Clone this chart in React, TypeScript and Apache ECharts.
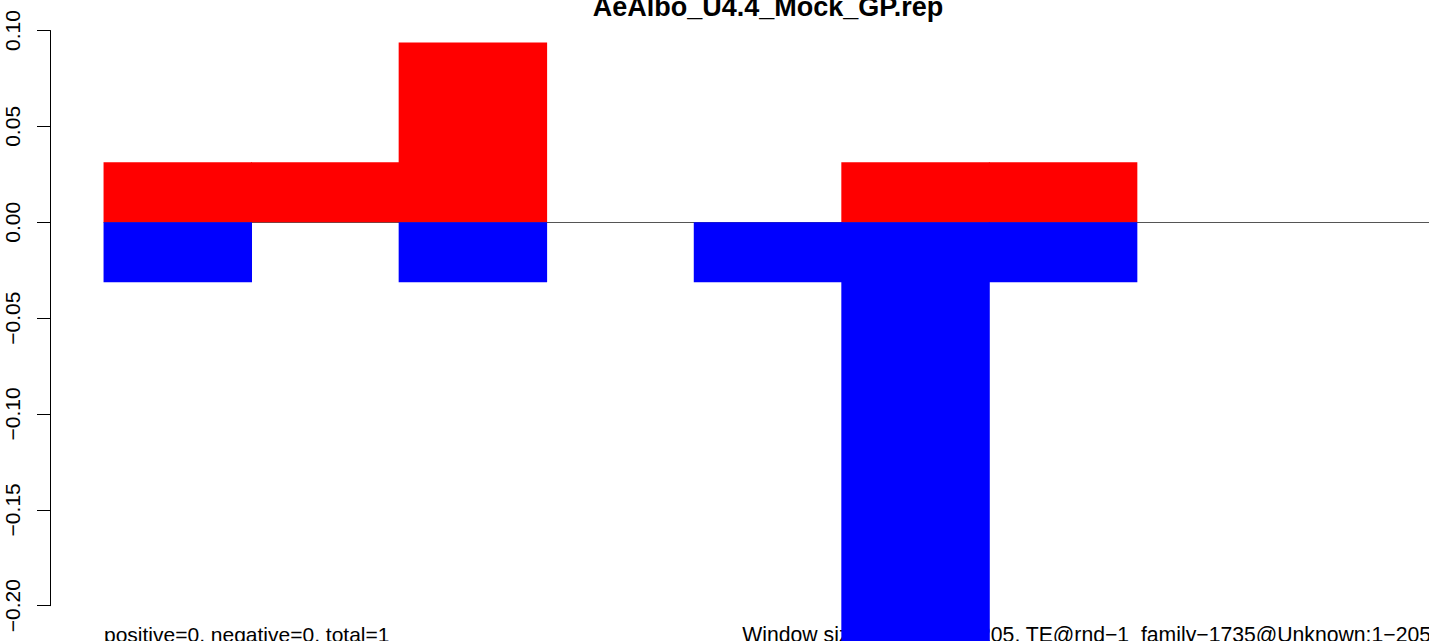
import React, { useEffect, useRef } from "react";
import * as echarts from "echarts";

const titleText = "AeAlbo_U4.4_Mock_GP.rep";
const leftNote = "positive=0, negative=0, total=1";
const rightNote = "Window size=25, length=205, TE@rnd\u22121_family\u22121735@Unknown:1\u2212205";

const windows = ["1-25", "26-50", "51-75", "76-100", "101-125", "126-150", "151-175", "176-200", "201-205"];
const positiveValues = [0.03125, 0.03125, 0.09375, 0, 0, 0.03125, 0.03125, 0, 0];
const negativeValues = [-0.03125, 0, -0.03125, 0, -0.03125, -0.21875, -0.03125, 0, 0];
const yTicks = { min: -0.2, max: 0.1, interval: 0.05 };

const FONT = "'Liberation Sans', Arial, Helvetica, sans-serif";
const CHART_W = 1440;
const GRID_W = 1328;

const hideZero = (arr: number[]) => arr.map((v) => (v === 0 ? "-" : v));

export default function App() {
  const ref = useRef<HTMLDivElement>(null);
  useEffect(() => {
    if (!ref.current) return;
    const chart = echarts.init(ref.current, null, { renderer: "svg" });
    const barW = GRID_W / windows.length + 0.9;
    chart.setOption({
      animation: false,
      backgroundColor: "#ffffff",
      grid: { left: 104, top: 30.5, width: GRID_W, height: 575.2, containLabel: false },
      xAxis: {
        type: "category",
        data: windows,
        boundaryGap: true,
        axisLine: { show: true, onZero: true, lineStyle: { color: "#555555", width: 1 } },
        axisTick: { show: false },
        axisLabel: { show: false },
        splitLine: { show: false },
      },
      yAxis: {
        type: "value",
        min: yTicks.min,
        max: yTicks.max,
        interval: yTicks.interval,
        position: "left",
        offset: 54,
        axisLine: { show: true, lineStyle: { color: "#000000", width: 1 } },
        axisTick: { show: true, length: 13, lineStyle: { color: "#000000", width: 1 } },
        axisLabel: {
          rotate: 90,
          margin: 27,
          color: "#000000",
          fontSize: 21,
          fontFamily: FONT,
          formatter: (v: number) => {
            const s = Math.abs(v).toFixed(2);
            return v < -1e-9 ? "\u2212" + s : s;
          },
        },
        splitLine: { show: false },
      },
      series: [
        {
          type: "bar",
          name: "positive",
          data: hideZero(positiveValues),
          itemStyle: { color: "#ff0000" },
          barWidth: barW,
          barGap: "-100%",
          clip: false,
          z: 2,
        },
        {
          type: "bar",
          name: "negative",
          data: hideZero(negativeValues),
          itemStyle: { color: "#0000ff" },
          barWidth: barW,
          barGap: "-100%",
          clip: false,
          z: 2,
        },
      ],
      graphic: [
        {
          type: "text",
          z: 0,
          style: {
            text: titleText,
            x: 768,
            y: 7,
            align: "center",
            verticalAlign: "middle",
            font: `bold 27px ${FONT}`,
            fill: "#000000",
          },
        },
        {
          type: "text",
          z: 0,
          style: {
            text: leftNote,
            x: 104,
            y: 634,
            align: "left",
            verticalAlign: "middle",
            font: `21px ${FONT}`,
            fill: "#000000",
          },
        },
        {
          type: "text",
          z: 0,
          style: {
            text: rightNote,
            x: 1431,
            y: 634,
            align: "right",
            verticalAlign: "middle",
            font: `21.2px ${FONT}`,
            fill: "#000000",
          },
        },
      ],
    });
    return () => chart.dispose();
  }, []);
  return (
    <div style={{ position: "absolute", left: 0, top: 0, width: 1429, height: 641, overflow: "hidden", background: "#fff" }}>
      <div ref={ref} style={{ width: CHART_W, height: 641 }} />
    </div>
  );
}
